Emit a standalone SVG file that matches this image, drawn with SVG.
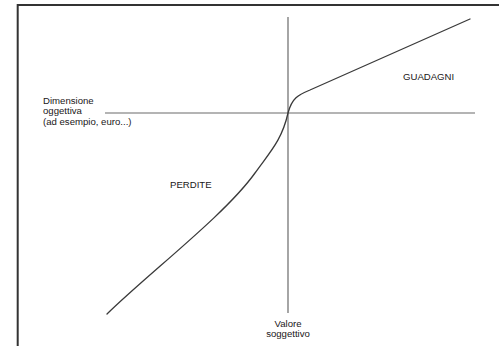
<svg xmlns="http://www.w3.org/2000/svg" width="499" height="346" viewBox="0 0 499 346">
  <style>
    .frame { stroke: #333333; stroke-width: 2; fill: none; }
    .axis { stroke: #6a6a6a; stroke-width: 1.2; fill: none; }
    .curve { stroke: #3a3a3a; stroke-width: 1.3; fill: none; stroke-linecap: round; }
    .lbl { font-family: "Liberation Sans", Arial, sans-serif; font-size: 9.6px; fill: #1a1718; }
  </style>
  <rect width="499" height="346" fill="#ffffff"/>
  <g id="frame">
    <path class="frame" d="M17.7,346 V5 H499"/>
  </g>
  <g id="connectors">
    <line id="axis-x" class="axis" x1="105" y1="113" x2="475" y2="113"/>
    <line id="axis-y" class="axis" x1="288" y1="17" x2="288" y2="313"/>
    <path id="value-curve" class="curve" d="M107,314 C150,272 225,215 255,173 C270,152 282,140 288,113 C292,98 298,95 310,90 L470,19"/>
  </g>
  <g id="label-dimensione">
    <text class="lbl" x="43" y="103.5">Dimensione</text>
    <text class="lbl" x="43" y="114">oggettiva</text>
    <text class="lbl" x="43" y="124.5">(ad esempio, euro...)</text>
  </g>
  <g id="label-guadagni">
    <text class="lbl" x="403" y="80">GUADAGNI</text>
  </g>
  <g id="label-perdite">
    <text class="lbl" x="170" y="188">PERDITE</text>
  </g>
  <g id="label-valore">
    <text class="lbl" x="288" y="327" text-anchor="middle">Valore</text>
    <text class="lbl" x="288" y="337" text-anchor="middle">soggettivo</text>
  </g>
</svg>
